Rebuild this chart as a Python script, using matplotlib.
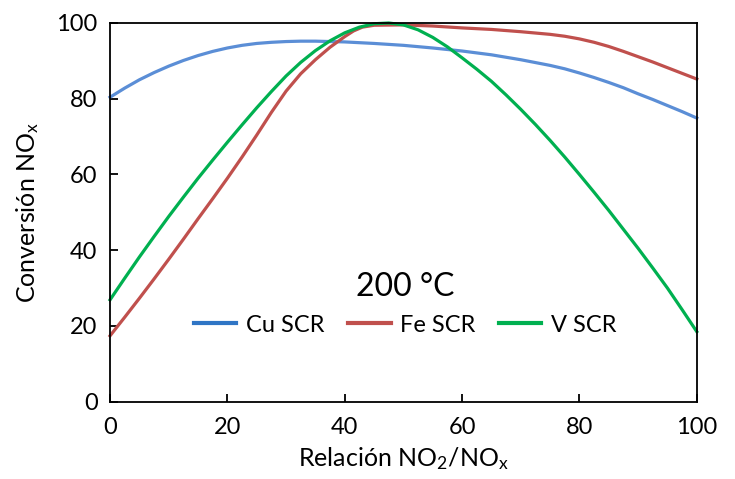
import matplotlib
matplotlib.use('Agg')
import matplotlib.pyplot as plt
from matplotlib.lines import Line2D

plt.rcParams['font.family'] = ['Lato', 'DejaVu Sans']
plt.rcParams['mathtext.fontset'] = 'custom'
plt.rcParams['mathtext.rm'] = 'Lato'
plt.rcParams['mathtext.it'] = 'Lato'

# values (NO2/NOx ratio vs NOx conversion)
x_cu = [0, 2.5, 5, 7.5, 10, 12.5, 15, 17.5, 20, 22.5, 25, 27.5, 30, 32.5, 35, 40, 45, 50, 55,
        60, 65, 70, 75, 77.5, 80, 82.5, 85, 87.5, 90, 92.5, 95, 97.5, 100]
y_cu = [80.4, 82.8, 85.0, 86.9, 88.6, 90.1, 91.4, 92.5, 93.4, 94.1, 94.6, 94.9, 95.1, 95.2, 95.2,
        95.0, 94.6, 94.1, 93.4, 92.6, 91.6, 90.3, 88.8, 87.9, 86.8, 85.6, 84.3, 82.9, 81.3,
        79.8, 78.2, 76.6, 74.9]

x_fe = [0, 2.5, 5, 7.5, 10, 12.5, 15, 17.5, 20, 22.5, 25, 27.5, 30, 32.5, 35, 37.5, 40, 41.5,
        43, 45, 50, 55, 60, 65, 70, 75, 77.5, 80, 82.5, 85, 87.5, 90, 92.5, 95, 97.5, 100]
y_fe = [17.4, 22.3, 27.3, 32.4, 37.6, 42.9, 48.3, 53.6, 59.0, 64.6, 70.4, 76.4, 82.0, 86.6,
        90.3, 93.6, 96.4, 97.9, 98.9, 99.4, 99.5, 99.2, 98.7, 98.3, 97.7, 97.0, 96.5, 95.8,
        94.9, 93.8, 92.5, 91.1, 89.7, 88.2, 86.7, 85.2]

x_v = [0, 2.5, 5, 7.5, 10, 12.5, 15, 17.5, 20, 22.5, 25, 27.5, 30, 32.5, 35, 37.5, 40, 42.5,
       45, 47.5, 50, 52.5, 55, 57.5, 60, 62.5, 65, 67.5, 70, 72.5, 75, 77.5, 80, 82.5, 85,
       87.5, 90, 92.5, 95, 97.5, 100]
y_v = [26.9, 32.6, 38.2, 43.6, 48.9, 54.0, 59.0, 63.8, 68.5, 73.1, 77.6, 81.9, 86.0, 89.6,
       92.7, 95.3, 97.4, 98.9, 99.8, 100.0, 99.5, 98.2, 96.2, 93.7, 90.8, 87.8, 84.6, 81.0,
       77.2, 73.2, 69.0, 64.6, 60.0, 55.3, 50.5, 45.5, 40.5, 35.3, 30.0, 24.3, 18.5]

labels = ['Cu SCR', 'Fe SCR', 'V SCR']
line_colors = ['#5B8ED6', '#C0504D', '#00B050']
legend_colors = ['#2F75C5', '#C0504D', '#00B050']

fig = plt.figure(figsize=(7.35, 4.79), dpi=100)
ax = fig.add_axes([0.1497, 0.1614, 0.7983, 0.7906])

for xs, ys, c in zip([x_cu, x_fe, x_v], [y_cu, y_fe, y_v], line_colors):
    ax.plot(xs, ys, color=c, lw=2.3, solid_joinstyle='round', clip_on=False)

ax.set_xlim(0, 100)
ax.set_ylim(0, 100)
ax.set_xticks([0, 20, 40, 60, 80, 100])
ax.set_yticks([0, 20, 40, 60, 80, 100])
ax.tick_params(direction='in', length=6, width=1.3, labelsize=17)
ax.tick_params(axis='x', pad=11)
ax.tick_params(axis='y', pad=9)
for s in ax.spines.values():
    s.set_linewidth(1.3)

ax.set_xlabel('Relación NO$_2$/NO$_x$', fontsize=18, labelpad=5)
ax.set_ylabel('Conversión NO$_x$', fontsize=18, labelpad=11)

ax.text(0.503, 0.303, '200 °C', transform=ax.transAxes, ha='center', va='center', fontsize=23)

handles = [Line2D([0], [0], color=c, lw=3) for c in legend_colors]
ax.legend(handles, labels, loc='center', bbox_to_anchor=(0.503, 0.2025), ncol=3,
          frameon=False, fontsize=17, handlelength=1.8, handletextpad=0.4, columnspacing=1.0)

fig.savefig('out.png', dpi=100)
